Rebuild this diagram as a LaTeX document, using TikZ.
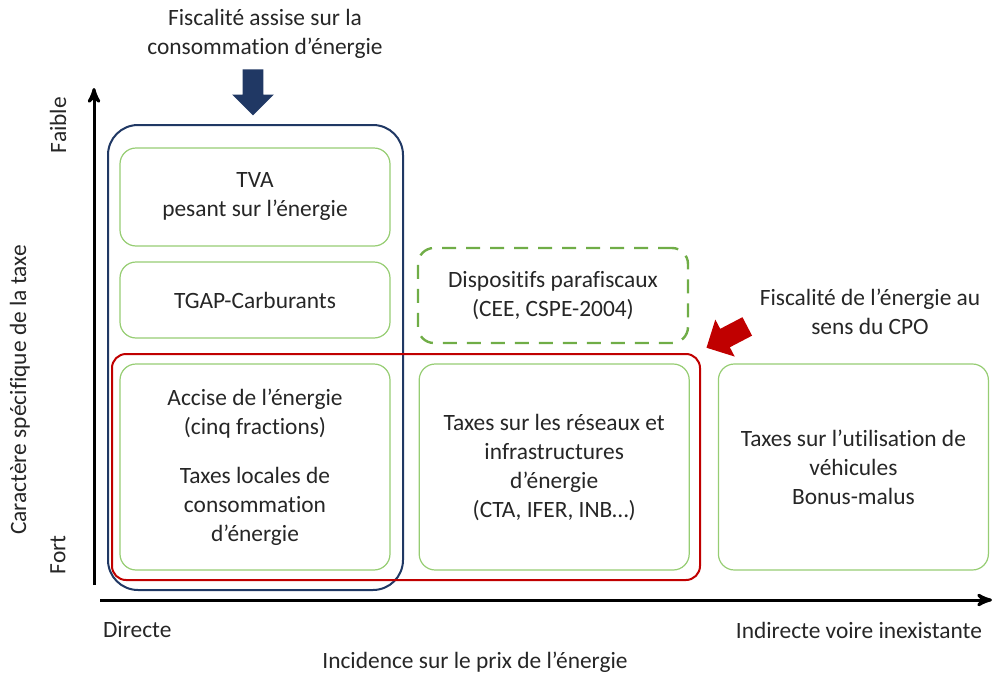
\documentclass[tikz,border=0pt]{standalone}
\usepackage{fontspec}
\setmainfont{Carlito}[Ligatures=NoCommon]
\usetikzlibrary{arrows,shapes.arrows,positioning}
\definecolor{navy}{RGB}{32,56,100}
\definecolor{cporouge}{RGB}{192,0,0}
\definecolor{boxvert}{RGB}{150,205,115}
\definecolor{dashvert}{RGB}{112,173,71}
\definecolor{textgris}{RGB}{38,38,38}

\begin{document}
\begin{tikzpicture}[x=0.5pt,y=-0.5pt,>=stealth',node distance=14pt,
			font=\fontsize{11.7}{14.5}\selectfont,
			every node/.style={text=textgris},
			taxe/.style={draw=boxvert, line width=0.6pt, rounded corners=8pt, align=center, minimum width=135pt, minimum height=103pt},
			parafisc/.style={taxe, draw=dashvert, line width=1.2pt, dash pattern=on 7pt off 5pt, minimum height=47.5pt},
			cadre/.style={line width=1pt, minimum width=#1},
			fleche/.style={single arrow, draw=none, fill=#1, minimum height=23pt, inner sep=5pt, single arrow head extend=5.25pt},
			axe/.style={->, line width=1.5pt}]
				\useasboundingbox (0,0) rectangle (993,675);

				\node[taxe, minimum height=49pt] 	(tva)     at (255,197)   {TVA\\pesant sur l’énergie};
				\node[taxe, minimum height=38pt] 	(tgap)    at (255,300)   {TGAP-Carburants};
				\node[taxe]                      	(accise)  at (255,467)   {Accise de l’énergie\\(cinq fractions)\\[10pt]Taxes locales de\\consommation\\d’énergie};
				\node[taxe]                      	(reseaux) [right=of accise]  {Taxes sur les réseaux et\\infrastructures\\d’énergie\\(CTA, IFER, INB…)};
				\node[taxe]                      	(vehic)   [right=of reseaux] {Taxes sur l’utilisation de\\véhicules\\Bonus-malus};
				\node[parafisc]                  	(dispo)   at (553,295.5) {Dispositifs parafiscaux\\(CEE, CSPE-2004)};

				\node[cadre=147.5pt, draw=navy, rounded corners=15pt, minimum height=232.5pt] (conso) at (255.5,357.5) {};
				\node[cadre=294pt, draw=cporouge, rounded corners=7pt, minimum height=113pt]  (cpo)   at (406,467) {};

				\node[align=center] (titreconso) at (265,34)  {Fiscalité assise sur la\\consommation d’énergie};
				\node[align=center] (titrecpo)   at (870,312) {Fiscalité de l’énergie au\\sens du CPO};
				\node[fleche=navy, rotate=-90, anchor=tip]      (flecheconso) at (253,116) {};
				\node[fleche=cporouge, rotate=207.6, anchor=tip] (flechecpo)  at (706,348) {};

				\coordinate (yorig) at (94,585);
				\coordinate (yhaut) at (94,88);
				\coordinate (xorig) at (100,600);
				\coordinate (xdroite) at (992,600);
				\draw[axe] (yorig) -- (yhaut);
				\draw[axe] (xorig) -- (xdroite);

				\node[rotate=90] (faible) at (58,125) {Faible};
				\node[rotate=90] (carac)  at (20,390) {Caractère spécifique de la taxe};
				\node[rotate=90] (fort)   at (58,555) {Fort};
				\node[anchor=west] (directe)  at (96,630)  {Directe};
				\node[anchor=east] (indirecte) at (989,630) {Indirecte voire inexistante};
				\node (incidence) at (475,662) {Incidence sur le prix de l’énergie};
			\end{tikzpicture}
\end{document}
